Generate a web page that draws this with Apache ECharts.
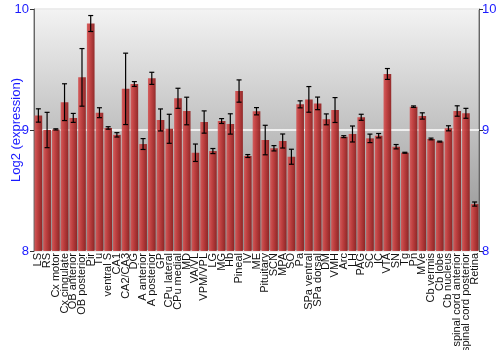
<!DOCTYPE html>
<html><head><meta charset="utf-8">
<script src="https://cdn.jsdelivr.net/npm/echarts@6/dist/echarts.min.js"></script>
<style>html,body{margin:0;padding:0;background:#fff}#c{width:500px;height:350px}</style>
</head><body><div id="c"></div>
<script>
const categories = ["LS","RS","Cx motor","Cx cingulate","OB anterior","OB posterior","Pir","Tu","ventral S","CA1","CA2/CA3","DG","A anterior","A posterior","GP","CPu lateral","CPu medial","MD","VA/VL","VPM/VPL","LG","MG","Hb","Pineal","IV","ME","Pituitary","SCN","MPA","SO","Pa","SPa ventral","SPa dorsal","DM","VMH","Arc","LH","PAG","SC","IC","VTA","SN","Tg","Pn","MVe","Cb vermis","Cb lobe","Cb nucleus","spinal cord anterior","spinal cord posterior","Retina"];
const values = [9.12,9.00,9.005,9.23,9.10,9.435,9.88,9.143,9.017,8.96,9.34,9.38,8.884,9.427,9.083,9.01,9.262,9.157,8.812,9.066,8.826,9.074,9.05,9.322,8.785,9.155,8.917,8.849,8.909,8.779,9.212,9.253,9.22,9.088,9.165,8.945,8.967,9.105,8.931,8.953,9.463,8.862,8.812,9.193,9.116,8.926,8.904,9.014,9.157,9.138,8.388];
const errors = [0.055,0.146,0.005,0.152,0.037,0.238,0.066,0.041,0.01,0.018,0.295,0.02,0.045,0.05,0.091,0.12,0.083,0.114,0.072,0.092,0.021,0.02,0.084,0.092,0.012,0.03,0.122,0.022,0.058,0.062,0.029,0.106,0.052,0.045,0.103,0.008,0.066,0.025,0.035,0.018,0.045,0.018,0.004,0.006,0.026,0.007,0.004,0.021,0.043,0.041,0.017];
const yTicks = [8, 9, 10];

const chart = echarts.init(document.getElementById('c'));
const blue = '#1a1aff';
const errData = values.map((v, i) => [i, v - errors[i], v + errors[i]]);
chart.setOption({
  animation: false,
  grid: {left: 34, right: 21, top: 9, bottom: 99, show: true, outerBoundsMode: 'none', containLabel: false,
    borderColor: '#777', borderWidth: 1,
    backgroundColor: new echarts.graphic.LinearGradient(0,0,0,1,[{offset:0,color:'#f3f3f3'},{offset:1,color:'#8e8e8e'}])},
  xAxis: {type: 'category', data: categories,
    axisLine: {show: false}, axisTick: {show: false},
    axisLabel: {rotate: 90, interval: 0, fontSize: 11, color: '#111', fontFamily: 'Liberation Sans', margin: 2}},
  yAxis: [
    {type: 'value', min: 8, max: 10, interval: 1, name: 'Log2 (expression)', nameLocation: 'middle', nameGap: 11,
     nameMoveOverlap: false,
     nameTextStyle: {color: blue, fontSize: 13, fontFamily: 'Liberation Sans'},
     axisLine: {show: true, lineStyle: {color: '#666'}}, axisTick: {show: true, length: 4, lineStyle: {color: '#333'}},
     axisLabel: {color: blue, fontSize: 13, fontFamily: 'Liberation Sans', margin: 5, formatter: v => yTicks.includes(v) ? String(v) : ''},
     splitLine: {show: true, lineStyle: {color: '#ffffff', width: 1.5}}},
    {type: 'value', min: 8, max: 10, interval: 1, position: 'right',
     axisLine: {show: true, lineStyle: {color: '#666'}}, axisTick: {show: true, length: 4, lineStyle: {color: '#333'}},
     axisLabel: {color: blue, fontSize: 13, fontFamily: 'Liberation Sans', margin: 3, formatter: v => yTicks.includes(v) ? String(v) : ''},
     splitLine: {show: false}}
  ],
  series: [
    {type: 'bar', data: values, barCategoryGap: '12%',
     itemStyle: {opacity: 0.92, color: new echarts.graphic.LinearGradient(0,0,1,0,[
       {offset:0,color:'#d35555'},{offset:0.35,color:'#c43a3a'},{offset:1,color:'#8e1c1c'}])}},
    {type: 'custom', data: errData, z: 10,
     renderItem: function (params, api) {
       const x = api.coord([api.value(0), api.value(1)]);
       const lo = api.coord([api.value(0), api.value(1)]);
       const hi = api.coord([api.value(0), api.value(2)]);
       const cap = 2.5;
       const st = {stroke: '#000', lineWidth: 1.2};
       return {type: 'group', children: [
         {type: 'line', shape: {x1: x[0], y1: lo[1], x2: x[0], y2: hi[1]}, style: st},
         {type: 'line', shape: {x1: x[0]-cap, y1: lo[1], x2: x[0]+cap, y2: lo[1]}, style: st},
         {type: 'line', shape: {x1: x[0]-cap, y1: hi[1], x2: x[0]+cap, y2: hi[1]}, style: st}
       ]};
     }}
  ]
});
</script></body></html>
